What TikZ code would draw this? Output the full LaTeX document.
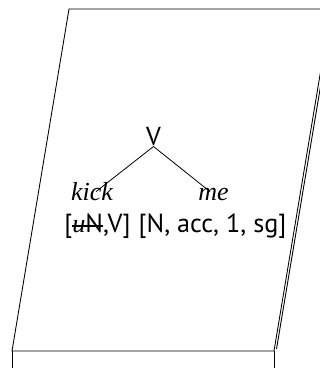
\documentclass[tikz,border=0pt]{standalone}
\usepackage{fontspec}
\setmainfont{Liberation Serif}
\newfontfamily\featfont{PT Sans}
\newcommand{\strikeit}[1]{\begingroup\setbox0=\hbox{#1}\rlap{\rule[0.19em]{\wd0}{2pt}}\box0\endgroup}
\tikzset{
  slab/.style={draw=black, line width=0.9pt, line join=miter},
  branch/.style={draw=black, line width=0.8pt},
  catlabel/.style={font=\featfont\fontsize{26}{30}\selectfont, inner sep=1pt, anchor=base},
  wordlabel/.style={font=\fontsize{26}{30}\selectfont\itshape, inner sep=1pt, anchor=base, text height=0.72em, text depth=0.2em},
  featlabel/.style={font=\featfont\fontsize{26.2}{30}\selectfont, inner sep=0pt, anchor=base}
}
\begin{document}
\begin{tikzpicture}[x=1pt,y=-1pt]
\useasboundingbox (0,0) rectangle (320,368);
\clip (0,0) rectangle (320,368);
% slab
\draw[slab] (331,9) -- (69,9) -- (12,351) -- (274,351) -- cycle;
\draw[slab] (276.5,349) -- (333.5,9);
\draw[slab] (12,351) -- (12,380);
\draw[slab] (274,351) -- (274,380);
% tree
\node[catlabel] (v) at (153.5,145) {V};
\node[wordlabel] (kick) at (92,200) {kick};
\node[wordlabel] (me) at (213.5,200) {me};
\node[featlabel] (kf) at (97.5,232) {[\strikeit{{\normalfont\itshape u}N},V]};
\node[featlabel] (mf) at (212.5,232) {[N, acc, 1, sg]};
\draw[branch] (v.south) -- ([xshift=4pt]kick.north);
\draw[branch] (v.south) -- ([xshift=-3.5pt]me.north);
\end{tikzpicture}
\end{document}
